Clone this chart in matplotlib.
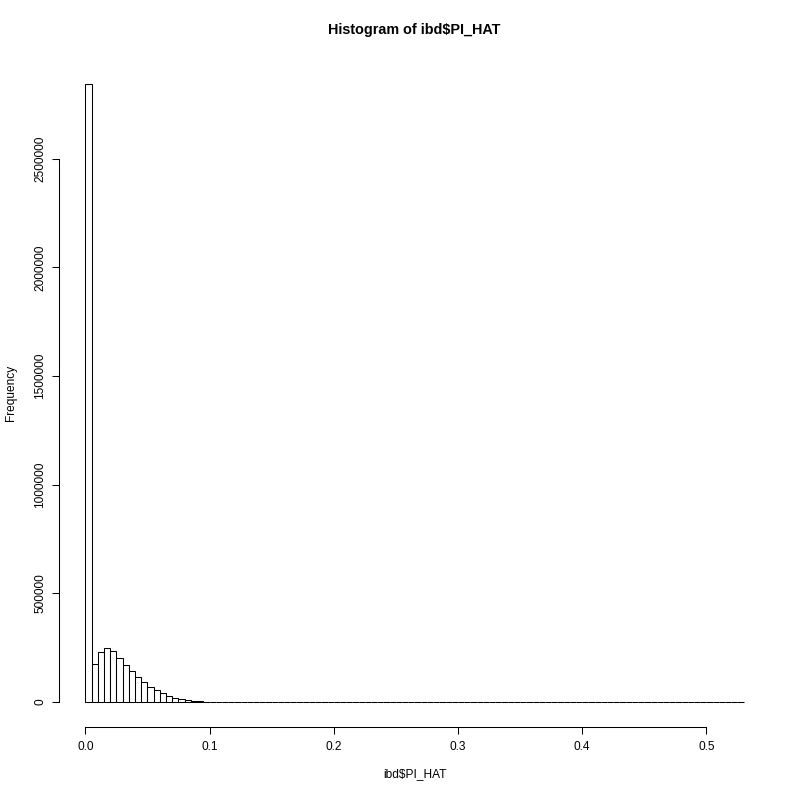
import matplotlib
matplotlib.use('Agg')
import matplotlib.pyplot as plt
import numpy as np

plt.rcParams['font.family'] = ['Liberation Sans', 'DejaVu Sans']

# Histogram of ibd$PI_HAT, breaks every 0.005 from 0 to 0.53
bin_width = 0.005
counts = [
    2845000, 175000, 230000, 248000, 235000, 203000, 170000, 140000, 115000, 90000,
    70000, 54000, 39000, 28000, 18500, 11500, 7000, 4000, 2300, 1300,
    700, 400, 220, 130, 80, 50, 35, 25, 20, 15,
    12, 10, 9, 8, 7, 7, 6, 6, 5, 5,
    5, 4, 4, 4, 4, 3, 3, 3, 3, 3,
    3, 2, 2, 2, 2, 2, 2, 2, 2, 2,
    2, 2, 2, 2, 2, 2, 2, 2, 2, 2,
    2, 2, 2, 2, 2, 2, 2, 2, 2, 2,
    2, 2, 2, 2, 2, 2, 2, 2, 2, 2,
    2, 3, 3, 3, 3, 3, 3, 3, 3, 2,
    2, 2, 2, 2, 1, 1,
]
x_ticks = [0.0, 0.1, 0.2, 0.3, 0.4, 0.5]
x_tick_labels = ['0.0', '0.1', '0.2', '0.3', '0.4', '0.5']
y_ticks = [0, 500000, 1000000, 1500000, 2000000, 2500000]

W = H = 800
fig = plt.figure(figsize=(8, 8), dpi=100)
# R default margins: mar = c(5.1, 4.1, 4.1, 2.1), 14.4 px per line
left, right, top, bottom = 59.0, 770.0, 59.0, 726.6
ax = fig.add_axes([left / W, (H - bottom) / H, (right - left) / W, (bottom - top) / H])

edges = bin_width * np.arange(len(counts))
ax.bar(edges, counts, width=bin_width, align='edge',
       facecolor='white', edgecolor='black', linewidth=0.75)

x_max = bin_width * len(counts)
y_max = max(counts)
ax.set_xlim(-0.04 * x_max, 1.04 * x_max)
ax.set_ylim(-0.04 * y_max, 1.04 * y_max)

ax.spines['top'].set_visible(False)
ax.spines['right'].set_visible(False)
ax.spines['bottom'].set_bounds(x_ticks[0], x_ticks[-1])
ax.spines['left'].set_bounds(y_ticks[0], y_ticks[-1])
for s in ('bottom', 'left'):
    ax.spines[s].set_linewidth(0.75)

ax.set_xticks(x_ticks)
ax.set_xticklabels(x_tick_labels)
ax.set_yticks(y_ticks)
ax.set_yticklabels([str(v) for v in y_ticks], rotation=90, va='center')
ax.tick_params(axis='both', direction='out', length=5, width=0.75, labelsize=8.6)
ax.tick_params(axis='x', pad=5.5)
ax.tick_params(axis='y', pad=4)

fig.text((left + right) / 2 / W, 1 - 30 / H, 'Histogram of ibd$PI_HAT',
         ha='center', va='center', fontsize=10.4, fontweight='bold', usetex=False)
fig.text((left + right) / 2 / W, 1 - 774 / H, 'ibd$PI_HAT',
         ha='center', va='center', fontsize=8.6)
fig.text(11 / W, 1 - (top + bottom) / 2 / H, 'Frequency',
         ha='center', va='center', rotation=90, fontsize=8.6)

fig.savefig('out.png', dpi=100)
